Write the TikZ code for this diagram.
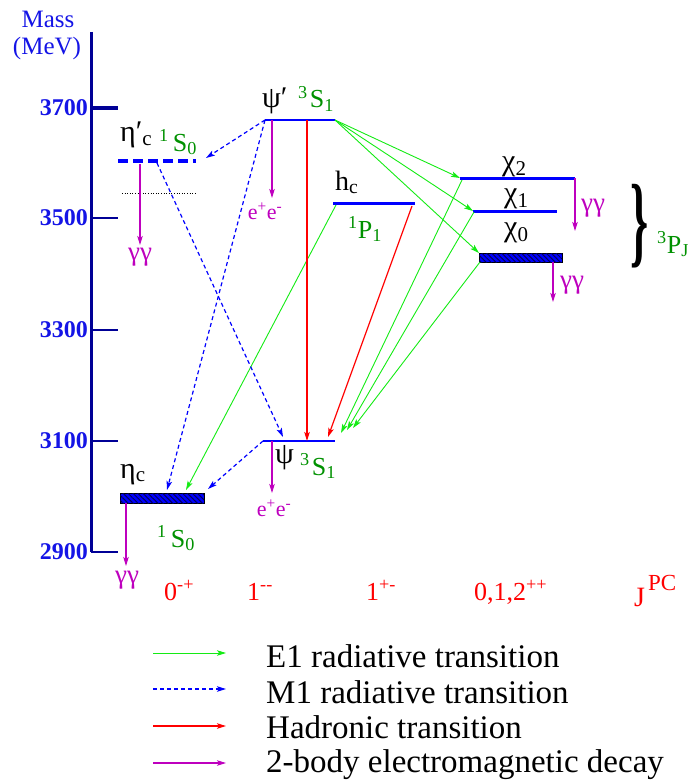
\documentclass[tikz,border=0pt]{standalone}
\usepackage{fontspec}
\setmainfont{Liberation Serif}
\usetikzlibrary{arrows.meta,patterns.meta}

\definecolor{axisblue}{RGB}{0,0,150}
\definecolor{labelblue}{RGB}{20,20,230}
\definecolor{levelblue}{RGB}{0,0,255}
\definecolor{hatchblue}{RGB}{0,0,90}
\definecolor{egreen}{RGB}{20,235,20}
\definecolor{termgreen}{RGB}{0,145,0}
\definecolor{hred}{RGB}{255,0,0}
\definecolor{emag}{RGB}{190,0,190}

\begin{document}
\begin{tikzpicture}[x=1pt,y=-1pt,
	tip/.style={-{Stealth[length=9pt,width=5.5pt,inset=2pt]}},
	lvl/.style={levelblue,line width=#1}, lvl/.default=2pt,
	hatchbox/.style={draw=black,line width=0.8pt,fill=levelblue,
		postaction={pattern={Lines[angle=-45,distance=3.5pt,line width=1pt]},pattern color=hatchblue}},
	eone/.style={tip,egreen,line width=0.9pt},
	mone/.style={tip,levelblue,line width=1.2pt,dash pattern=on 4pt off 3pt},
	hadr/.style={tip,hred,line width=1.2pt},
	emdec/.style={tip,emag,line width=1.1pt},
	bigtxt/.style={font=\fontsize{26}{26}\selectfont,inner sep=0,anchor=base west},
	greek/.style={bigtxt,font=\fontsize{30}{30}\selectfont},
	term/.style={bigtxt,termgreen},
	decaytxt/.style={font=\fontsize{22}{22}\selectfont,emag,inner sep=0},
	jpc/.style={font=\fontsize{26}{26}\selectfont,red,inner sep=0,anchor=base west},
	legtext/.style={font=\fontsize{33}{33}\selectfont,inner sep=0,anchor=base west},
	ticklabel/.style={font=\fontsize{24}{24}\selectfont\bfseries,labelblue,anchor=east,inner sep=0},
	masstxt/.style={font=\fontsize{25}{25}\selectfont,labelblue,inner sep=0}]
	\useasboundingbox (0,0) rectangle (695,781);

	% mass axis
	\node[masstxt] (mass) at (48,19) {Mass};
	\node[masstxt] (mev) at (47,48) {(MeV)};
	\draw [axisblue, line width=3pt] (91,32) -- (91,552);
	\foreach \m/\y in {3700/108,3500/218,3300/330,3100/441,2900/552} {
		\draw [axisblue, line width=2.5pt] (91,\y) -- (118,\y);
		\node[ticklabel] (m\m) at (88,\y) {\m};
	}
	\draw [axisblue, line width=4pt] (91,108) -- (118,108);

	% levels
	\coordinate (etap-w) at (118,161); \coordinate (etap-e) at (196,161);
	\coordinate (psip-w) at (265,120); \coordinate (psip-e) at (335,120);
	\coordinate (hc-w) at (333,203);   \coordinate (hc-e) at (415,203);
	\coordinate (chi2-w) at (460,178); \coordinate (chi2-e) at (575,178);
	\coordinate (chi1-w) at (473,211); \coordinate (chi1-e) at (557,211);
	\coordinate (psi-w) at (263,441);  \coordinate (psi-e) at (335,441);
	\draw [lvl=4pt, dash pattern=on 10pt off 5pt] (etap-w) -- (etap-e);
	\draw [black, dotted, line width=0.6pt] (122,193) -- (197,193);
	\draw [lvl] (psip-w) -- (psip-e);
	\draw [lvl=3pt] (hc-w) -- (hc-e);
	\draw [lvl=3pt] (chi2-w) -- (chi2-e);
	\draw [lvl=3pt] (chi1-w) -- (chi1-e);
	\draw [lvl] (psi-w) -- (psi-e);
	\draw [hatchbox] (479,253) rectangle (562,262);
	\draw [hatchbox] (120,493) rectangle (204,503);
	\coordinate (chi0-nw) at (479,253); \coordinate (chi0-sw) at (480,262);

	% names of the states
	\node[greek] (etap-lab) at (120,142) {η′\textsubscript{c}};
	\node[term] (etap-term) at (159,151) {\textsuperscript{1}\hspace{4pt}S\textsubscript{0}};
	\node[greek] (psip-lab) at (262,107) {ψ′};
	\node[term] (psip-term) at (298,108) {\textsuperscript{3}\hspace{2pt}S\textsubscript{1}};
	\node[bigtxt, font=\fontsize{28}{28}\selectfont] (hc-lab) at (335,190) {h\textsubscript{c}};
	\node[term] (hc-term) at (348,238) {\textsuperscript{1}P\textsubscript{1}};
	\node[greek] (chi2-lab) at (502,170) {χ\textsubscript{2}};
	\node[greek] (chi1-lab) at (504,202) {χ\textsubscript{1}};
	\node[greek] (chi0-lab) at (504,236) {χ\textsubscript{0}};
	\node[bigtxt, font=\fontsize{46}{46}\selectfont\bfseries] (brace) at (630,254) {\scalebox{1}[2.2]{\}}};
	\node[term] (chij-term) at (657,253) {\textsuperscript{3}P\textsubscript{J}};
	\node[greek] (psi-lab) at (275,463) {ψ};
	\node[term] (psi-term) at (300,475) {\textsuperscript{3}\hspace{2pt}S\textsubscript{1}};
	\node[greek] (eta-lab) at (120,478) {η\textsubscript{c}};
	\node[term] (eta-term) at (157,547) {\textsuperscript{1}\hspace{4pt}S\textsubscript{0}};

	% E1 transitions
	\draw [eone] (psip-e) -- (chi2-w);
	\draw [eone] (psip-e) -- (chi1-w);
	\draw [eone] (psip-e) -- (chi0-nw);
	\coordinate (psi-r1) at (341,433);
	\coordinate (psi-r2) at (347,430);
	\coordinate (psi-r3) at (353,428);
	\draw [eone] ([shift={(2,2)}]chi2-w) -- (psi-r1);
	\draw [eone] ([shift={(1,1)}]chi1-w) -- (psi-r2);
	\draw [eone] (chi0-sw) -- (psi-r3);
	\coordinate (eta-t2) at (186,490);
	\draw [eone] ([shift={(3,2)}]hc-w) -- (eta-t2);

	% M1 transitions
	\coordinate (etap-t) at (206,158);
	\coordinate (etap-s) at (157,163);
	\coordinate (psi-t) at (283,437);
	\coordinate (eta-t1) at (167,490);
	\coordinate (eta-t3) at (208,489);
	\draw [mone] (psip-w) -- (etap-t);
	\draw [mone] (etap-s) -- (psi-t);
	\draw [mone] (psip-w) -- (eta-t1);
	\draw [mone] (psi-w) -- (eta-t3);

	% hadronic transitions
	\coordinate (psip-m) at (307,120); \coordinate (psi-m) at (307,441);
	\coordinate (hc-s) at (412,206);   \coordinate (psi-t2) at (328,437);
	\draw [hadr] (psip-m) -- (psi-m);
	\draw [hadr] (hc-s) -- (psi-t2);

	% decays
	\coordinate (etap-d) at (140,164); \coordinate (etap-dd) at (140,245);
	\coordinate (psip-d) at (272,120); \coordinate (psip-dd) at (272,198);
	\coordinate (chi2-d) at (575,178); \coordinate (chi2-dd) at (575,231);
	\coordinate (chi0-d) at (553,262); \coordinate (chi0-dd) at (553,302);
	\coordinate (psi-d) at (272,441);  \coordinate (psi-dd) at (272,493);
	\coordinate (eta-d) at (126,503);  \coordinate (eta-dd) at (126,566);
	\draw [emdec] (etap-d) -- (etap-dd);
	\draw [emdec] (psip-d) -- (psip-dd);
	\draw [emdec] (chi2-d) -- (chi2-dd);
	\draw [emdec] (chi0-d) -- (chi0-dd);
	\draw [emdec] (psi-d) -- (psi-dd);
	\draw [emdec] (eta-d) -- (eta-dd);
	\node[decaytxt, font=\fontsize{27}{27}\selectfont] (etap-gg) at (140,257) {γγ};
	\node[decaytxt] (psip-ee) at (265,211) {e\textsuperscript{+}e\textsuperscript{-}};
	\node[decaytxt, font=\fontsize{27}{27}\selectfont] (chi2-gg) at (593,208) {γγ};
	\node[decaytxt, font=\fontsize{27}{27}\selectfont] (chi0-gg) at (572,285) {γγ};
	\node[decaytxt] (psi-ee) at (274,508) {e\textsuperscript{+}e\textsuperscript{-}};
	\node[decaytxt, font=\fontsize{27}{27}\selectfont] (eta-gg) at (127,580) {γγ};

	% quantum numbers
	\node[jpc] (jpc1) at (164,600) {0\textsuperscript{-+}};
	\node[jpc] (jpc2) at (247,600) {1\textsuperscript{-{}-}};
	\node[jpc] (jpc3) at (366,600) {1\textsuperscript{+-}};
	\node[jpc] (jpc4) at (474,600) {0,1,2\textsuperscript{++}};
	\node[jpc, font=\fontsize{28}{28}\selectfont] (jpc5) at (634,606) {J\hspace{3pt}\raisebox{16pt}{\fontsize{23}{23}\selectfont PC}};

	% legend
	\foreach \k/\y in {1/653,2/689,3/726,4/763} {
		\coordinate (k\k a) at (153,\y);
		\coordinate (k\k b) at (226,\y);
	}
	\draw [eone] (k1a) -- (k1b);
	\draw [mone] (k2a) -- (k2b);
	\draw [hadr] (k3a) -- (k3b);
	\draw [emdec] (k4a) -- (k4b);
	\node[legtext] (k1t) at (266,667) {E1 radiative transition};
	\node[legtext] (k2t) at (266,703) {M1 radiative transition};
	\node[legtext] (k3t) at (266,738) {Hadronic transition};
	\node[legtext] (k4t) at (266,772) {2-body electromagnetic decay};
\end{tikzpicture}
\end{document}
